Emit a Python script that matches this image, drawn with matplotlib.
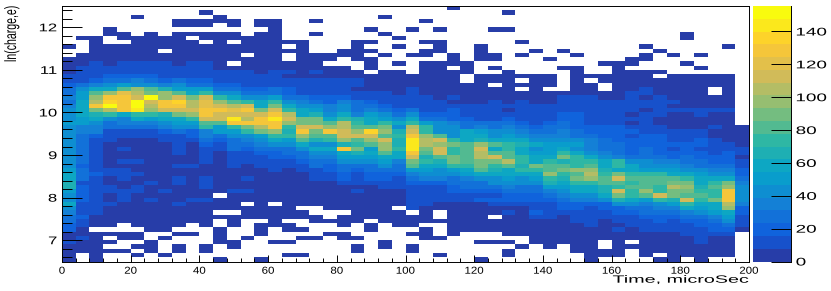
import numpy as np
import matplotlib
matplotlib.use('Agg')
import matplotlib.pyplot as plt
from matplotlib.colors import BoundaryNorm, LinearSegmentedColormap, ListedColormap
from matplotlib.patheffects import AbstractPathEffect
from matplotlib.transforms import Affine2D
from matplotlib.ticker import MultipleLocator

plt.rcParams['font.family'] = ['Liberation Sans', 'DejaVu Sans']

# counts per cell, top row first (ln(charge) 12.4-12.5 down to 6.5-6.6), 4 microSec columns
r00 = [0]*28 + [1] + [0]*21
r01 = [0,0,0,0,0,0,0,0,0,0, 1,0,0,0,0,0,0,0,0,0, 0,0,0,0,0,0,0,0,0,0, 0,0,1,0,0,0,0,0,0,0, 0,0,0,0,0,0,0,0,0,0]
r02 = [0,0,0,0,0,1,0,0,0,0, 0,1,0,0,0,0,0,0,0,0, 0,0,0,1,0,0,0,0,0,0, 0,0,0,0,0,0,0,0,0,0, 0,0,0,0,0,0,0,0,0,0]
r03 = [0,0,0,0,0,0,0,0,1,1, 1,1,1,0,1,1,0,0,1,0, 0,0,0,0,0,0,1,0,0,0, 0,0,0,0,0,0,0,0,0,0, 0,0,0,0,0,0,0,0,0,0]
r04 = [0,0,0,0,0,0,0,0,1,1, 1,0,1,0,1,1,0,0,0,0, 0,0,0,0,0,0,0,0,0,0, 0,0,0,0,0,0,0,0,0,0, 0,0,0,0,0,0,0,0,0,0]
r05 = [0,0,0,1,0,0,0,0,0,0, 0,0,0,0,0,1,0,0,0,0, 0,0,1,0,0,1,0,1,0,0, 0,1,1,0,0,0,0,0,0,0, 0,0,0,0,0,0,0,0,0,0]
r06 = [0,0,0,1,1,0,1,0,1,1, 1,1,1,0,1,1,0,0,1,0, 0,0,0,1,0,0,0,0,0,0, 0,0,0,0,0,0,0,0,0,0, 0,0,0,0,0,1,0,0,0,0]
r07 = [0,1,1,0,1,1,1,1,1,0, 1,1,1,1,1,1,0,0,0,0, 0,0,0,0,1,0,0,0,0,0, 0,0,0,0,0,0,0,0,0,0, 0,0,0,0,0,1,0,0,0,0]
r08 = [0,0,1,0,0,1,1,1,1,1, 0,1,0,1,1,1,1,1,0,0, 0,1,1,0,0,0,1,1,0,0, 0,0,0,1,0,0,0,0,0,0, 0,0,0,0,0,0,0,0,0,0]
r09 = [1,0,1,1,1,1,1,1,1,1, 1,1,1,1,1,1,0,1,0,0, 0,1,0,0,1,0,0,1,0,0, 1,0,0,0,0,0,0,0,0,0, 0,0,1,0,0,0,0,0,1,0]
r10 = [0,0,1,1,1,1,1,0,1,1, 1,1,1,1,1,1,1,1,0,0, 1,1,1,0,0,0,1,1,0,0, 1,0,0,0,1,0,1,0,0,0, 0,0,0,1,0,0,0,0,0,0]
r11 = [0,1,1,1,1,1,1,1,1,1, 1,1,1,0,1,1,0,1,1,1, 1,1,0,1,0,1,1,0,1,0, 1,1,0,1,0,0,0,1,0,0, 0,0,1,0,1,0,1,0,0,0]
r12 = [1,1,1,1,1,1,1,1,1,1, 1,1,1,1,1,1,0,1,1,1, 0,1,1,0,0,0,0,0,1,0, 1,1,0,0,0,1,0,0,0,0, 0,1,1,0,0,0,0,0,0,0]
r13 = [3,3,8,3,8,8,8,8,3,8, 8,3,0,3,3,3,3,3,3,0, 0,0,3,0,3,0,3,3,3,3, 0,0,0,0,0,0,0,0,0,1, 1,1,0,0,0,1,0,0,0,0]
r14 = [3,10,10,10,10,12,12,12,8,10, 10,3,3,3,3,3,3,3,3,3, 3,0,3,0,0,0,3,3,0,3, 0,3,0,0,0,0,1,1,0,0, 1,0,0,0,0,0,1,0,0,0]
r15 = [3,10,10,12,15,15,15,15,10,12, 12,10,10,10,3,8,8,3,10,3, 3,3,0,3,3,0,3,3,3,3, 0,0,3,0,0,0,0,1,0,0, 1,1,1,1,0,0,0,0,0,0]
r16 = [10,10,15,20,18,18,20,15,15,12, 12,12,10,15,8,8,3,3,3,3, 3,3,3,3,3,3,3,3,3,0, 3,3,3,3,3,3,0,3,3,3, 3,3,3,0,3,3,3,3,3,0]
r17 = [15,15,22,28,25,32,30,22,25,18, 22,15,12,15,10,10,8,12,8,8, 8,8,3,3,3,3,3,3,3,0, 3,3,3,0,3,3,0,3,0,3, 3,3,3,3,3,3,3,3,3,0]
r18 = [18,30,35,42,50,45,40,35,42,30, 30,22,18,15,15,12,12,15,8,12, 8,8,3,3,3,3,3,3,3,3, 3,0,3,3,3,3,0,3,3,0, 3,3,3,3,3,3,3,3,3,0]
r19 = [25,45,55,60,85,100,85,65,50,50, 50,30,30,20,22,25,20,15,12,8, 8,5,3,3,3,8,3,3,3,3, 3,3,3,0,3,0,0,3,3,0, 3,3,8,3,3,3,3,0,3,0]
r20 = [30,48,85,100,120,105,90,95,80,60, 75,45,40,30,25,30,22,15,12,12, 15,8,8,10,3,8,3,3,3,3, 3,3,3,3,3,3,3,3,3,3, 3,8,10,3,3,3,3,0,3,0]
r21 = [35,50,100,130,125,115,148,100,110,90, 110,75,60,45,40,50,30,30,20,18, 20,12,8,10,8,15,8,3,8,3, 3,3,3,3,3,3,10,8,8,3, 3,8,3,8,3,3,3,3,3,0]
r22 = [28,55,105,135,125,150,110,130,135,105, 120,100,85,75,55,70,40,38,28,22, 35,25,18,15,10,10,8,8,3,3, 3,8,3,8,3,3,12,12,12,12, 12,15,8,10,8,3,3,3,3,0]
r23 = [38,60,125,150,125,150,105,130,130,105, 120,115,105,115,60,90,55,40,40,35, 40,30,28,22,15,15,12,8,12,10, 8,10,8,8,8,8,12,15,12,10, 12,15,12,15,3,3,3,3,3,0]
r24 = [45,60,90,105,125,140,100,115,110,110, 130,130,120,125,90,110,75,55,50,32, 45,28,35,25,18,25,15,8,18,12, 12,10,3,8,8,8,15,12,12,10, 12,12,3,15,8,12,12,8,8,0]
r25 = [45,55,65,70,55,70,75,65,90,100, 130,115,115,115,115,125,105,60,65,45, 60,35,50,40,30,45,22,18,20,15, 12,12,10,8,8,12,18,18,12,12, 12,3,8,8,3,3,12,3,3,0]
r26 = [45,50,55,45,35,60,50,55,60,75, 115,115,140,105,130,140,110,90,90,60, 75,65,60,50,45,55,30,30,18,18, 15,15,18,12,12,15,22,22,12,15, 15,12,15,3,3,3,3,3,3,0]
r27 = [50,50,45,30,32,35,32,45,50,50, 85,85,125,125,125,125,100,90,90,85, 105,75,60,75,60,70,50,40,35,25, 25,30,25,18,15,22,25,18,15,15, 15,3,15,3,3,3,3,3,3,0]
r28 = [45,35,32,25,25,30,30,35,40,40, 70,50,70,90,105,130,75,110,110,100, 105,80,80,90,45,105,70,42,45,25, 35,30,35,25,22,25,28,22,20,18, 18,15,8,12,3,3,3,12,3,3]
r29 = [42,32,32,15,12,15,15,20,25,20, 35,50,50,70,90,95,65,125,90,125, 115,100,135,100,65,115,70,45,45,55, 50,42,40,32,28,28,32,25,20,18, 22,18,15,15,8,8,15,3,3,3]
r30 = [40,30,18,10,8,10,10,12,15,18, 35,30,40,40,50,75,75,100,80,80, 115,115,115,85,70,125,95,85,45,62, 55,40,50,45,35,32,35,30,30,22, 22,15,18,18,12,12,15,3,3,3]
r31 = [42,28,15,8,5,5,5,8,10,10, 25,22,28,35,42,60,50,85,68,70, 100,85,100,110,65,140,105,115,70,60, 65,60,60,55,45,40,42,40,35,25, 22,18,18,18,15,15,18,12,3,3]
r32 = [42,25,12,6,5,3,3,5,12,5, 18,15,28,25,35,40,45,60,45,45, 65,70,80,100,68,145,105,100,90,80, 100,80,70,65,60,50,50,50,35,30, 25,22,22,18,18,18,22,15,8,3]
r33 = [45,28,12,5,8,3,3,3,10,3, 12,12,25,18,28,30,30,40,60,55, 125,90,50,100,70,145,90,110,70,80, 110,60,70,60,45,50,55,45,35,30, 25,18,25,22,12,20,15,15,12,8]
r34 = [45,30,10,3,3,3,3,3,10,3, 10,3,12,12,18,22,25,30,45,45, 55,65,62,85,60,125,85,110,75,80, 105,80,80,60,50,50,75,60,45,38, 30,22,30,22,18,22,18,15,18,10]
r35 = [42,28,10,3,3,3,3,3,3,3, 12,3,12,10,15,18,22,25,35,35, 50,50,50,60,60,115,65,80,90,85, 105,115,85,70,55,60,90,70,55,45, 35,28,28,30,22,25,22,18,18,3]
r36 = [40,25,12,3,8,8,3,3,3,3, 10,3,10,8,12,10,12,22,25,25, 42,40,40,50,35,90,70,65,90,85, 90,90,105,75,60,70,65,70,70,60, 75,40,40,35,35,30,25,22,22,12]
r37 = [45,22,10,3,3,3,3,3,8,8, 3,3,8,3,8,8,8,12,25,20, 30,30,30,40,30,85,55,55,75,70, 90,75,85,65,90,85,80,75,80,55, 70,55,40,40,45,32,30,28,30,15]
r38 = [50,25,12,8,10,3,3,3,3,3, 3,3,3,3,5,8,3,8,15,18, 30,22,28,30,25,50,50,45,50,60, 80,65,60,70,70,85,90,95,100,65, 60,60,50,50,50,40,40,35,35,18]
r39 = [55,25,18,12,12,8,3,3,3,3, 3,3,3,3,3,3,3,3,10,8, 20,15,22,22,20,35,40,40,40,50, 60,55,55,55,60,100,75,85,105,70, 90,75,70,70,60,60,50,45,45,18]
r40 = [58,25,15,3,12,3,3,3,8,3, 10,3,3,8,3,3,3,3,8,8, 18,15,20,18,15,30,35,35,25,35, 45,45,50,45,50,75,65,90,95,80, 110,85,85,80,85,70,60,60,60,30]
r41 = [65,12,10,3,3,3,8,3,8,3, 10,3,3,3,3,3,3,3,3,3, 10,8,8,15,10,22,22,22,25,30, 30,40,40,40,40,65,55,70,75,80, 80,70,85,80,90,90,60,75,90,35]
r42 = [68,18,10,8,3,8,3,3,3,3, 10,3,3,3,3,3,3,3,3,3, 3,3,3,8,8,15,15,15,18,25, 25,28,35,30,30,50,50,60,60,65, 70,80,85,70,105,95,65,80,95,40]
r43 = [50,22,10,8,8,8,3,8,3,3, 3,3,8,8,3,3,3,3,3,3, 3,8,3,3,3,12,12,15,18,22, 20,22,28,25,30,35,40,55,60,65, 115,70,95,70,90,90,70,75,125,45]
r44 = [45,18,12,3,8,3,3,3,3,3, 3,0,3,3,3,3,3,3,3,3, 3,3,3,3,3,10,10,8,10,15, 15,15,20,20,22,25,35,45,45,55, 90,70,80,115,90,85,85,70,130,45]
r45 = [45,18,12,3,8,3,8,3,3,8, 8,3,3,3,3,3,3,3,3,3, 3,3,3,3,3,8,8,12,8,8, 22,16,20,20,20,18,30,32,35,45, 65,55,50,70,65,110,70,90,125,40]
r46 = [55,15,10,8,3,3,3,3,8,3, 3,3,3,0,3,0,3,3,3,3, 3,3,3,3,3,12,12,3,3,3, 3,12,12,12,15,12,20,20,20,22, 40,40,35,45,50,70,60,62,105,35]
r47 = [40,12,10,3,3,3,3,3,3,3, 3,3,3,3,3,3,3,0,0,3, 3,3,3,3,0,8,3,3,3,3, 3,3,3,3,12,12,16,16,14,16, 22,30,30,32,38,55,50,60,95,18]
r48 = [35,15,10,3,3,3,3,3,3,3, 3,0,0,3,3,3,3,3,0,0, 0,3,3,3,3,0,3,0,3,3, 3,3,10,3,18,15,10,12,10,15, 20,22,25,28,30,35,40,50,60,18]
r49 = [30,18,3,3,3,3,3,3,3,3, 3,3,3,3,3,3,3,3,3,0, 3,3,3,3,3,3,3,0,3,3, 3,0,3,3,8,8,3,8,10,10, 15,15,20,22,22,28,30,38,50,12]
r50 = [25,12,3,3,3,3,3,3,3,3, 3,0,3,0,0,3,0,0,3,3, 3,3,0,3,3,3,3,3,3,3, 3,3,3,3,3,3,3,8,8,3, 8,10,12,18,15,18,22,30,40,10]
r51 = [22,10,3,3,0,3,3,3,3,0, 3,0,3,0,3,3,3,0,0,0, 3,0,3,0,3,3,0,0,3,3, 3,3,3,3,3,3,3,3,8,3, 3,8,10,15,12,12,18,22,30,8]
r52 = [20,3,0,0,0,0,3,3,0,0, 0,3,0,0,3,0,3,3,0,0, 0,0,3,0,0,0,3,0,3,3, 3,3,3,3,3,3,3,3,3,3, 12,3,10,10,10,12,15,18,22,3]
r53 = [3,3,3,3,3,3,0,0,3,3, 0,3,0,0,3,0,0,0,0,3, 3,0,0,0,0,3,3,0,3,0, 0,0,3,3,3,3,3,3,3,3, 3,3,3,3,3,8,10,12,15,0]
r54 = [3,10,3,0,3,3,0,3,0,0, 0,3,0,3,0,0,0,3,3,0, 3,3,0,0,0,0,3,3,0,0, 0,0,0,0,3,3,3,3,3,3, 3,3,3,3,3,3,10,3,3,0]
r55 = [10,3,3,3,0,0,3,0,0,0, 0,3,3,0,0,3,3,0,0,0, 0,0,0,3,0,0,0,0,0,0, 3,3,3,0,3,3,3,3,3,0, 3,0,3,3,3,3,10,3,3,0]
r56 = [3,3,3,0,0,3,3,0,3,0, 3,0,3,0,0,0,0,0,0,0, 0,3,0,3,0,3,0,0,0,0, 0,0,0,3,0,3,0,3,3,0, 3,3,3,3,3,3,3,3,3,0]
r57 = [3,3,3,3,3,0,3,0,3,0, 3,0,0,0,0,0,0,0,0,0, 0,3,0,0,0,3,0,0,0,0, 0,0,3,0,0,0,0,3,3,3, 3,0,3,3,3,3,3,3,3,0]
r58 = [3,0,3,0,0,3,0,3,0,0, 0,0,0,0,0,0,3,3,0,0, 0,0,0,0,0,0,0,3,0,0, 0,0,3,0,0,0,0,0,3,3, 3,0,3,0,3,3,3,3,3,0]
r59 = [3,0,3,0,0,0,0,0,0,0, 0,3,0,0,3,0,0,0,0,0, 0,0,0,0,0,0,0,0,0,0, 3,0,0,0,0,0,0,0,3,0, 0,0,0,3,3,0,3,0,0,0]

rows = [r00, r01, r02, r03, r04, r05, r06, r07, r08, r09, r10, r11, r12, r13, r14, r15, r16, r17, r18, r19,
        r20, r21, r22, r23, r24, r25, r26, r27, r28, r29, r30, r31, r32, r33, r34, r35, r36, r37, r38, r39,
        r40, r41, r42, r43, r44, r45, r46, r47, r48, r49, r50, r51, r52, r53, r54, r55, r56, r57, r58, r59]

time_edges = np.arange(0, 201, 4)
charge_edges = np.linspace(12.5, 6.5, 61)
z_max = 155.5
n_levels = 20
W, H = 831, 291


class Stretch(AbstractPathEffect):
    # widen a text around a pivot, the reference has its labels pulled sideways
    def __init__(self, sx, pivot=0.0, sy=1.0):
        super().__init__()
        self.sx = sx
        self.sy = sy
        self.pivot = pivot

    def draw_path(self, renderer, gc, tpath, affine, rgbFace=None):
        box = tpath.get_extents()
        c = box.x0 + self.pivot * box.width
        tr = Affine2D().translate(-c, 0).scale(self.sx, self.sy).translate(c, 0) + affine
        renderer.draw_path(gc, tpath, tr, rgbFace)


# ROOT kBird palette, 20 contours
bird_r = [0.2082, 0.0592, 0.0780, 0.0232, 0.1802, 0.5301, 0.8186, 0.9956, 0.9764]
bird_g = [0.1664, 0.3599, 0.5041, 0.6419, 0.7178, 0.7492, 0.7328, 0.7862, 0.9832]
bird_b = [0.5293, 0.8684, 0.8385, 0.7914, 0.6425, 0.4662, 0.3499, 0.1968, 0.0539]
bird = LinearSegmentedColormap.from_list('bird', list(zip(bird_r, bird_g, bird_b)), N=255)
cmap = ListedColormap([bird(int((i + 0.99) * 255 / n_levels)) for i in range(n_levels)])
cmap.set_bad('white')
norm = BoundaryNorm(np.linspace(0, z_max, n_levels + 1), n_levels)

fig = plt.figure(figsize=(W / 100, H / 100), dpi=100)
ax = fig.add_axes([62 / W, 1 - 261.5 / H, (749 - 62) / W, 255.5 / H])
counts = np.ma.masked_equal(np.array(rows, dtype=float), 0)
mesh = ax.pcolormesh(time_edges, charge_edges, counts, cmap=cmap, norm=norm)
ax.set_xlim(0, 200)
ax.set_ylim(6.5, 12.5)

ax.set_xticks(np.arange(0, 201, 20))
ax.set_yticks(np.arange(7, 13))
ax.xaxis.set_minor_locator(MultipleLocator(4))
ax.yaxis.set_minor_locator(MultipleLocator(0.2))
ax.tick_params(axis='x', which='major', direction='in', length=5.2, width=0.7, labelsize=7.2, pad=3)
ax.tick_params(axis='x', which='minor', direction='in', length=2.6, width=0.7)
ax.tick_params(axis='y', which='major', direction='in', length=14.5, width=0.7, labelsize=8, pad=3.6)
ax.tick_params(axis='y', which='minor', direction='in', length=7.2, width=0.7)
for lab in ax.get_xticklabels():
    lab.set_path_effects([Stretch(1.15, 0.5)])
for lab in ax.get_yticklabels():
    lab.set_path_effects([Stretch(1.5, 1.0)])
for s in ax.spines.values():
    s.set_linewidth(0.7)

# palette axis
cax = fig.add_axes([752.5 / W, 1 - 261.5 / H, (791 - 752.5) / W, 255.5 / H])
cb = fig.colorbar(mesh, cax=cax, spacing='proportional', drawedges=False)
cb.set_ticks(np.arange(0, 141, 20))
cb.minorticks_off()
cb.outline.set_visible(False)
cax.spines['right'].set_visible(True)
cax.spines['right'].set_linewidth(0.7)
cax.tick_params(axis='y', direction='in', length=14.5, width=0.7, labelsize=8, pad=3.6)
for lab in cax.get_yticklabels():
    lab.set_path_effects([Stretch(1.7, 0.0)])

fig.text(612.7 / W, 1 - 282.7 / H, 'Time, microSec', fontsize=7.6, ha='left', va='baseline',
         path_effects=[Stretch(1.87, 0.0)])
fig.text(16 / W, 1 - 62 / H, 'ln(charge,e)', fontsize=7.6, rotation=90, ha='left', va='baseline',
         rotation_mode='anchor', path_effects=[Stretch(1.0, 0.0, 1.55)])

plt.savefig('out.png', dpi=100)
